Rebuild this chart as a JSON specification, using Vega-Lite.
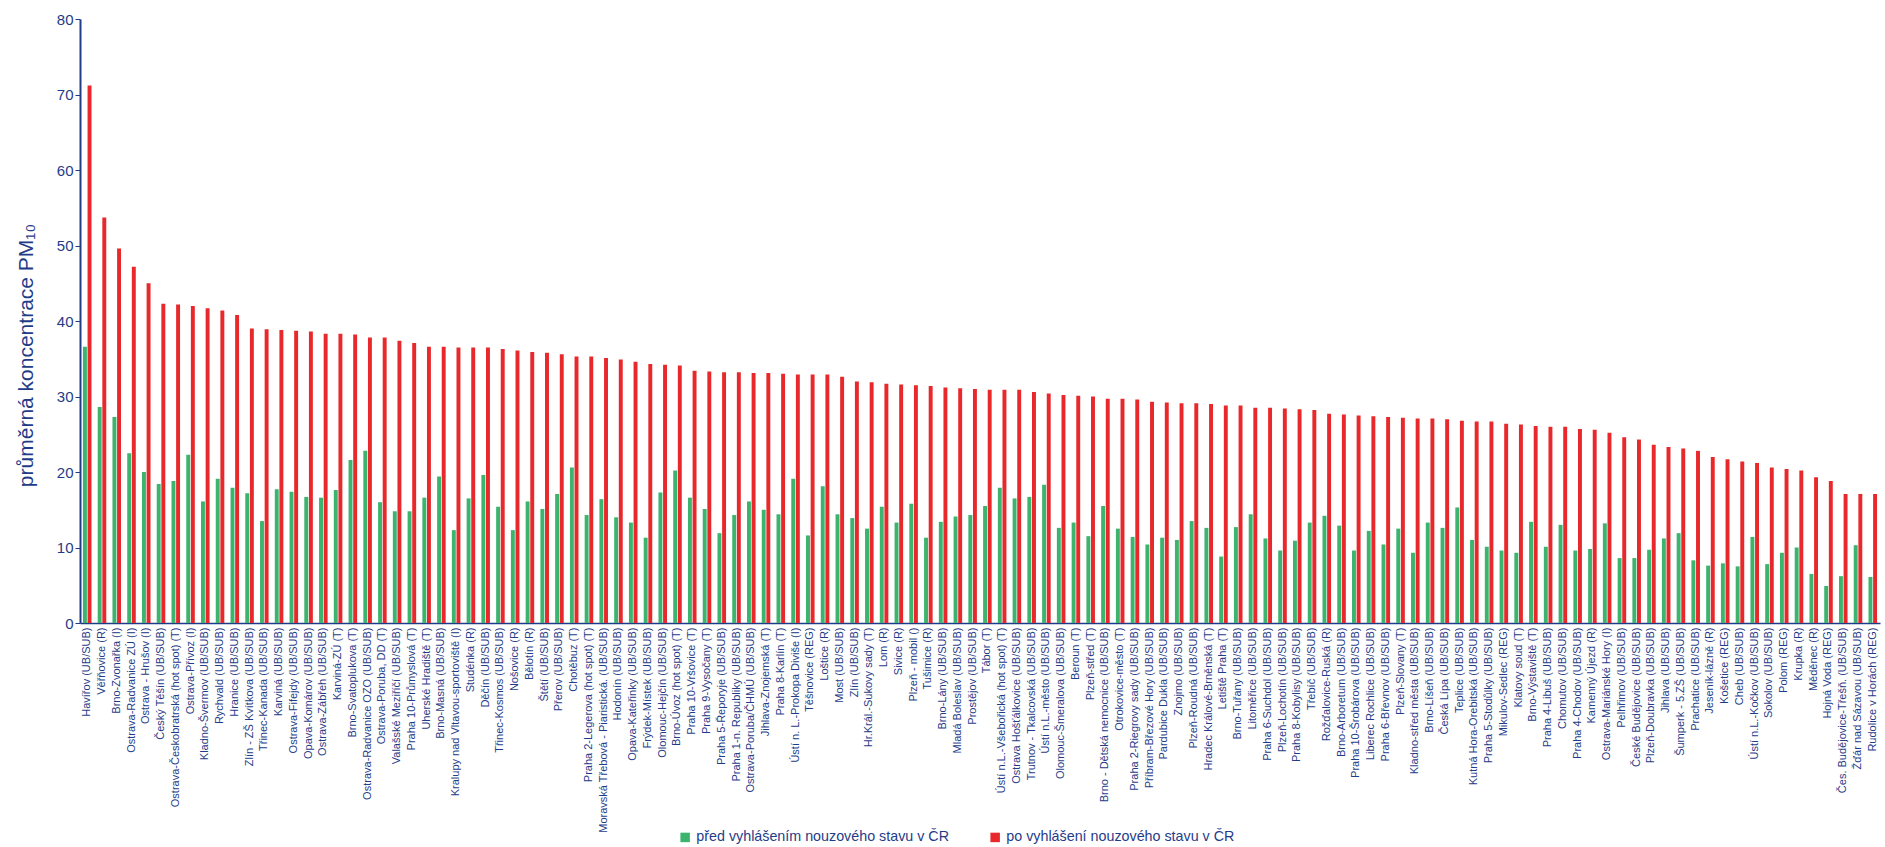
{
  "$schema": "https://vega.github.io/schema/vega-lite/v6.json",
  "width": 1800,
  "height": 604,
  "autosize": {"type": "none"},
  "padding": {"left": 80, "top": 19, "right": 5, "bottom": 224},
  "background": "white",
  "config": {"view": {"stroke": null}, "font": "Liberation Sans"},
  "data": {"values": [
    {"s": "Havířov (UB/SUB)", "pred": 36.6, "po": 71.2},
    {"s": "Věřňovice (R)", "pred": 28.6, "po": 53.7},
    {"s": "Brno-Zvonařka (I)", "pred": 27.3, "po": 49.6},
    {"s": "Ostrava-Radvanice ZÚ (I)", "pred": 22.5, "po": 47.2},
    {"s": "Ostrava - Hrušov (I)", "pred": 20.0, "po": 45.0},
    {"s": "Český Těšín (UB/SUB)", "pred": 18.4, "po": 42.3},
    {"s": "Ostrava-Českobratrská (hot spot) (T)", "pred": 18.8, "po": 42.2},
    {"s": "Ostrava-Přívoz (I)", "pred": 22.3, "po": 42.0},
    {"s": "Kladno-Švermov (UB/SUB)", "pred": 16.1, "po": 41.7},
    {"s": "Rychvald (UB/SUB)", "pred": 19.1, "po": 41.4},
    {"s": "Hranice (UB/SUB)", "pred": 17.9, "po": 40.8},
    {"s": "Zlín - ZŠ Kvítkova (UB/SUB)", "pred": 17.2, "po": 39.0},
    {"s": "Třinec-Kanada (UB/SUB)", "pred": 13.5, "po": 38.9},
    {"s": "Karviná (UB/SUB)", "pred": 17.7, "po": 38.8},
    {"s": "Ostrava-Fifejdy (UB/SUB)", "pred": 17.4, "po": 38.7},
    {"s": "Opava-Komárov (UB/SUB)", "pred": 16.7, "po": 38.6},
    {"s": "Ostrava-Zábřeh (UB/SUB)", "pred": 16.6, "po": 38.3},
    {"s": "Karviná-ZÚ (T)", "pred": 17.6, "po": 38.3},
    {"s": "Brno-Svatoplukova (T)", "pred": 21.6, "po": 38.2},
    {"s": "Ostrava-Radvanice OZO (UB/SUB)", "pred": 22.8, "po": 37.8},
    {"s": "Ostrava-Poruba, DD (T)", "pred": 16.0, "po": 37.8},
    {"s": "Valašské Meziříčí (UB/SUB)", "pred": 14.8, "po": 37.4},
    {"s": "Praha 10-Průmyslová (T)", "pred": 14.8, "po": 37.1},
    {"s": "Uherské Hradiště (T)", "pred": 16.6, "po": 36.6},
    {"s": "Brno-Masná (UB/SUB)", "pred": 19.4, "po": 36.6},
    {"s": "Kralupy nad Vltavou-sportoviště (I)", "pred": 12.3, "po": 36.5},
    {"s": "Studénka (R)", "pred": 16.5, "po": 36.5},
    {"s": "Děčín (UB/SUB)", "pred": 19.6, "po": 36.5},
    {"s": "Třinec-Kosmos (UB/SUB)", "pred": 15.4, "po": 36.3},
    {"s": "Nošovice (R)", "pred": 12.3, "po": 36.1},
    {"s": "Bělotín (R)", "pred": 16.1, "po": 35.9},
    {"s": "Štětí (UB/SUB)", "pred": 15.1, "po": 35.8},
    {"s": "Přerov (UB/SUB)", "pred": 17.1, "po": 35.6},
    {"s": "Chotěbuz (T)", "pred": 20.6, "po": 35.3},
    {"s": "Praha 2-Legerova (hot spot) (T)", "pred": 14.3, "po": 35.3},
    {"s": "Moravská Třebová - Piaristická. (UB/SUB)", "pred": 16.4, "po": 35.1},
    {"s": "Hodonín (UB/SUB)", "pred": 14.0, "po": 34.9},
    {"s": "Opava-Kateřinky (UB/SUB)", "pred": 13.3, "po": 34.6},
    {"s": "Frýdek-Místek (UB/SUB)", "pred": 11.3, "po": 34.3},
    {"s": "Olomouc-Hejčín (UB/SUB)", "pred": 17.3, "po": 34.2},
    {"s": "Brno-Úvoz (hot spot) (T)", "pred": 20.2, "po": 34.1},
    {"s": "Praha 10-Vršovice (T)", "pred": 16.6, "po": 33.4},
    {"s": "Praha 9-Vysočany (T)", "pred": 15.1, "po": 33.3},
    {"s": "Praha 5-Řeporyje (UB/SUB)", "pred": 11.9, "po": 33.2},
    {"s": "Praha 1-n. Republiky (UB/SUB)", "pred": 14.3, "po": 33.2},
    {"s": "Ostrava-Poruba/ČHMÚ (UB/SUB)", "pred": 16.1, "po": 33.1},
    {"s": "Jihlava-Znojemská (T)", "pred": 15.0, "po": 33.1},
    {"s": "Praha 8-Karlín (T)", "pred": 14.4, "po": 33.0},
    {"s": "Ústí n. L.-Prokopa Diviše (I)", "pred": 19.1, "po": 32.9},
    {"s": "Těšnovice (REG)", "pred": 11.6, "po": 32.9},
    {"s": "Loštice (R)", "pred": 18.1, "po": 32.9},
    {"s": "Most (UB/SUB)", "pred": 14.4, "po": 32.6},
    {"s": "Zlín (UB/SUB)", "pred": 13.9, "po": 32.0},
    {"s": "Hr.Král.-Sukovy sady (T)", "pred": 12.5, "po": 31.9},
    {"s": "Lom (R)", "pred": 15.4, "po": 31.7},
    {"s": "Sivice (R)", "pred": 13.3, "po": 31.6},
    {"s": "Plzeň - mobil ()", "pred": 15.8, "po": 31.5},
    {"s": "Tušimice (R)", "pred": 11.3, "po": 31.4},
    {"s": "Brno-Lány (UB/SUB)", "pred": 13.4, "po": 31.2},
    {"s": "Mladá Boleslav (UB/SUB)", "pred": 14.1, "po": 31.1},
    {"s": "Prostějov (UB/SUB)", "pred": 14.3, "po": 31.0},
    {"s": "Tábor (T)", "pred": 15.5, "po": 30.9},
    {"s": "Ústí n.L.-Všebořická (hot spot) (T)", "pred": 17.9, "po": 30.9},
    {"s": "Ostrava Hošťálkovice (UB/SUB)", "pred": 16.5, "po": 30.9},
    {"s": "Trutnov - Tkalcovská (UB/SUB)", "pred": 16.7, "po": 30.6},
    {"s": "Ústí n.L.-město (UB/SUB)", "pred": 18.3, "po": 30.4},
    {"s": "Olomouc-Šmeralova (UB/SUB)", "pred": 12.6, "po": 30.2},
    {"s": "Beroun (T)", "pred": 13.3, "po": 30.1},
    {"s": "Plzeň-střed (T)", "pred": 11.5, "po": 30.0},
    {"s": "Brno - Dětská nemocnice (UB/SUB)", "pred": 15.5, "po": 29.7},
    {"s": "Otrokovice-město (T)", "pred": 12.5, "po": 29.7},
    {"s": "Praha 2-Riegrovy sady (UB/SUB)", "pred": 11.4, "po": 29.6},
    {"s": "Příbram-Březové Hory (UB/SUB)", "pred": 10.4, "po": 29.3},
    {"s": "Pardubice Dukla (UB/SUB)", "pred": 11.3, "po": 29.2},
    {"s": "Znojmo (UB/SUB)", "pred": 11.0, "po": 29.1},
    {"s": "Plzeň-Roudná (UB/SUB)", "pred": 13.5, "po": 29.1},
    {"s": "Hradec Králové-Brněnská (T)", "pred": 12.6, "po": 29.0},
    {"s": "Letiště Praha (T)", "pred": 8.8, "po": 28.8},
    {"s": "Brno-Tuřany (UB/SUB)", "pred": 12.7, "po": 28.8},
    {"s": "Litoměřice (UB/SUB)", "pred": 14.4, "po": 28.5},
    {"s": "Praha 6-Suchdol (UB/SUB)", "pred": 11.2, "po": 28.5},
    {"s": "Plzeň-Lochotín (UB/SUB)", "pred": 9.6, "po": 28.4},
    {"s": "Praha 8-Kobylisy (UB/SUB)", "pred": 10.9, "po": 28.3},
    {"s": "Třebíč (UB/SUB)", "pred": 13.3, "po": 28.2},
    {"s": "Rožďalovice-Ruská (R)", "pred": 14.2, "po": 27.7},
    {"s": "Brno-Arboretum (UB/SUB)", "pred": 12.9, "po": 27.6},
    {"s": "Praha 10-Šrobárova (UB/SUB)", "pred": 9.6, "po": 27.5},
    {"s": "Liberec Rochlice (UB/SUB)", "pred": 12.2, "po": 27.4},
    {"s": "Praha 6-Břevnov (UB/SUB)", "pred": 10.4, "po": 27.3},
    {"s": "Plzeň-Slovany (T)", "pred": 12.5, "po": 27.2},
    {"s": "Kladno-střed města (UB/SUB)", "pred": 9.3, "po": 27.1},
    {"s": "Brno-Líšeň (UB/SUB)", "pred": 13.3, "po": 27.1},
    {"s": "Česká Lípa (UB/SUB)", "pred": 12.6, "po": 27.0},
    {"s": "Teplice (UB/SUB)", "pred": 15.3, "po": 26.8},
    {"s": "Kutná Hora-Orebitská (UB/SUB)", "pred": 11.0, "po": 26.7},
    {"s": "Praha 5-Stodůlky (UB/SUB)", "pred": 10.1, "po": 26.7},
    {"s": "Mikulov-Sedlec (REG)", "pred": 9.6, "po": 26.4},
    {"s": "Klatovy soud (T)", "pred": 9.3, "po": 26.3},
    {"s": "Brno-Výstaviště (T)", "pred": 13.4, "po": 26.1},
    {"s": "Praha 4-Libuš (UB/SUB)", "pred": 10.1, "po": 26.0},
    {"s": "Chomutov (UB/SUB)", "pred": 13.0, "po": 26.0},
    {"s": "Praha 4-Chodov (UB/SUB)", "pred": 9.6, "po": 25.7},
    {"s": "Kamenný Újezd (R)", "pred": 9.8, "po": 25.6},
    {"s": "Ostrava-Mariánské Hory (I)", "pred": 13.2, "po": 25.2},
    {"s": "Pelhřimov (UB/SUB)", "pred": 8.6, "po": 24.6},
    {"s": "České Budějovice (UB/SUB)", "pred": 8.6, "po": 24.3},
    {"s": "Plzeň-Doubravka (UB/SUB)", "pred": 9.7, "po": 23.6},
    {"s": "Jihlava (UB/SUB)", "pred": 11.2, "po": 23.3},
    {"s": "Šumperk - 5.ZŠ (UB/SUB)", "pred": 11.9, "po": 23.1},
    {"s": "Prachatice (UB/SUB)", "pred": 8.3, "po": 22.8},
    {"s": "Jeseník-lázně (R)", "pred": 7.6, "po": 22.0},
    {"s": "Košetice (REG)", "pred": 7.9, "po": 21.7},
    {"s": "Cheb (UB/SUB)", "pred": 7.5, "po": 21.4},
    {"s": "Ústí n.L.-Kočkov (UB/SUB)", "pred": 11.4, "po": 21.2},
    {"s": "Sokolov (UB/SUB)", "pred": 7.8, "po": 20.6},
    {"s": "Polom (REG)", "pred": 9.3, "po": 20.4},
    {"s": "Krupka (R)", "pred": 10.0, "po": 20.2},
    {"s": "Měděnec (R)", "pred": 6.5, "po": 19.3},
    {"s": "Hojná Voda (REG)", "pred": 4.9, "po": 18.8},
    {"s": "Čes. Budějovice-Třešň. (UB/SUB)", "pred": 6.2, "po": 17.1},
    {"s": "Žďár nad Sázavou (UB/SUB)", "pred": 10.3, "po": 17.1},
    {"s": "Rudolice v Horách (REG)", "pred": 6.1, "po": 17.1}
  ]},
  "transform": [{"fold": ["pred", "po"], "as": ["obdobi", "hodnota"]}],
  "mark": {"type": "bar"},
  "encoding": {
    "x": {
      "field": "s", "type": "nominal", "sort": null,
      "scale": {"paddingInner": 0.42, "paddingOuter": 0.2},
      "axis": {
        "title": null, "labelAngle": -90, "labelFontSize": 11, "labelColor": "#1F3C88",
        "labelPadding": 4, "ticks": false, "domainColor": "#1F3C88", "domainWidth": 1.5,
        "labelLimit": 230
      }
    },
    "xOffset": {"field": "obdobi", "type": "nominal", "scale": {"domain": ["pred", "po"], "paddingInner": 0.15}},
    "y": {
      "field": "hodnota", "type": "quantitative",
      "scale": {"domain": [0, 80], "nice": false},
      "axis": {
        "title": "průměrná koncentrace PM₁₀", "titleFontSize": 21, "titleFontWeight": "normal",
        "titleColor": "#1F3C88", "titlePadding": 20, "titleY": 336,
        "values": [0, 10, 20, 30, 40, 50, 60, 70, 80], "labelFontSize": 15, "labelColor": "#1F3C88",
        "grid": false, "domainColor": "#1F3C88", "domainWidth": 2, "tickColor": "#1F3C88", "tickSize": 5
      }
    },
    "color": {
      "field": "obdobi", "type": "nominal",
      "scale": {"domain": ["pred", "po"], "range": ["#3CB46E", "#E8282B"]},
      "legend": {
        "title": null, "orient": "none", "direction": "horizontal", "legendX": 598, "legendY": 811,
        "symbolType": "square", "symbolSize": 90, "symbolStrokeWidth": 0, "labelFontSize": 14.3, "labelColor": "#1F3C88",
        "columnPadding": 38, "labelLimit": 400,
        "labelExpr": "datum.label == 'pred' ? 'před vyhlášením nouzového stavu v ČR' : 'po vyhlášení nouzového stavu v ČR'"
      }
    }
  }
}
